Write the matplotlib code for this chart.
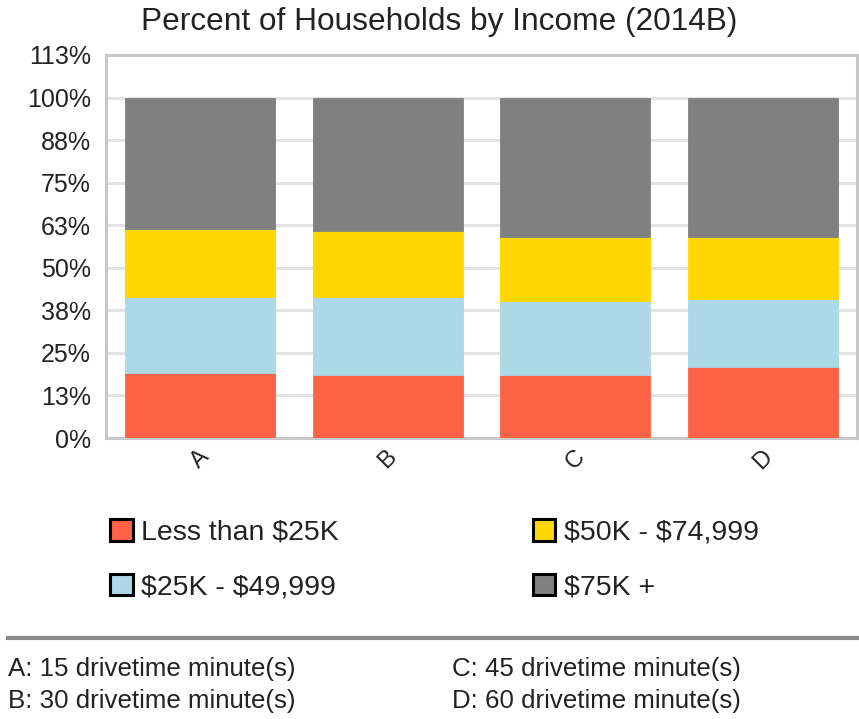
import matplotlib
matplotlib.use("Agg")
import matplotlib.pyplot as plt
import numpy as np

plt.rcParams['font.family'] = ['Liberation Sans', 'DejaVu Sans']

# Drive-time areas and household income shares (%)
areas = ["A", "B", "C", "D"]
series_names = ["Less than $25K", "$25K - $49,999", "$50K - $74,999", "$75K +"]
less_25k = [19.1, 18.5, 18.5, 20.8]
from_25k_50k = [22.2, 22.8, 21.7, 20.0]
from_50k_75k = [20.0, 19.4, 18.7, 18.1]
over_75k = [38.7, 39.3, 41.1, 41.1]
colors = ["#FF6347", "#ADD8E6", "#FFD700", "#808080"]

tick_values = [0, 12.5, 25, 37.5, 50, 62.5, 75, 87.5, 100, 112.5]
tick_labels = ["0%", "13%", "25%", "38%", "50%", "63%", "75%", "88%", "100%", "113%"]
footnotes = ["A: 15 drivetime minute(s)", "B: 30 drivetime minute(s)",
             "C: 45 drivetime minute(s)", "D: 60 drivetime minute(s)"]

fig = plt.figure(figsize=(8.59, 7.19), dpi=100)
ax = fig.add_axes([106 / 859, 1 - 438 / 719, 751 / 859, 383 / 719])

x = np.arange(len(areas))
bottom = np.zeros(len(areas))
handles = []
for name, vals, col in zip(series_names, [less_25k, from_25k_50k, from_50k_75k, over_75k], colors):
    bars = ax.bar(x, vals, width=0.8, bottom=bottom, color=col, edgecolor=col,
                  linewidth=0.6, label=name.replace("$", r"\$"), zorder=3)
    handles.append(bars)
    bottom += np.array(vals)

ax.set_xlim(-0.5, len(areas) - 0.5)
ax.set_ylim(0, 112.5)
ax.set_yticks(tick_values)
ax.set_yticklabels(tick_labels, fontsize=18, color="#222222")
ax.set_xticks(x)
ax.set_xticklabels(areas, fontsize=17, rotation=45, color="#222222")
ax.tick_params(axis="y", length=0, pad=11)
ax.tick_params(axis="x", length=0, pad=6)
ax.yaxis.grid(True, color="#e3e3e3", linewidth=2.2, zorder=0)
ax.set_axisbelow(True)
for sp in ax.spines.values():
    sp.set_color("#c8c8c8")
    sp.set_linewidth(2.2)

fig.text(439 / 859, 1 - 22 / 719, "Percent of Households by Income (2014B)",
         ha="center", va="center", fontsize=22.8, color="#222222")

leg = fig.legend(handles=handles, labels=[n.replace("$", r"\$") for n in series_names],
                 ncol=2, loc="upper left", bbox_to_anchor=(110 / 859, 1 - 519 / 719),
                 frameon=False, fontsize=20.5, handlelength=0.8, handleheight=0.8,
                 handletextpad=0.3, columnspacing=6.8, labelspacing=0.98,
                 borderaxespad=0, borderpad=0)
for h in leg.legend_handles:
    h.set_edgecolor("black")
    h.set_linewidth(2.2)
for t in leg.get_texts():
    t.set_color("#222222")

fig.add_artist(plt.Line2D([8 / 859, 857 / 859], [1 - 638 / 719, 1 - 638 / 719],
                          color="#8a8a8a", linewidth=3, transform=fig.transFigure))

foot_pos = [(8, 669), (8, 701), (452, 669), (452, 701)]
for txt, (px, py) in zip(footnotes, foot_pos):
    fig.text(px / 859, 1 - py / 719, txt, ha="left", va="center",
             fontsize=18.6, color="#222222")

fig.savefig("out.png", dpi=100)
